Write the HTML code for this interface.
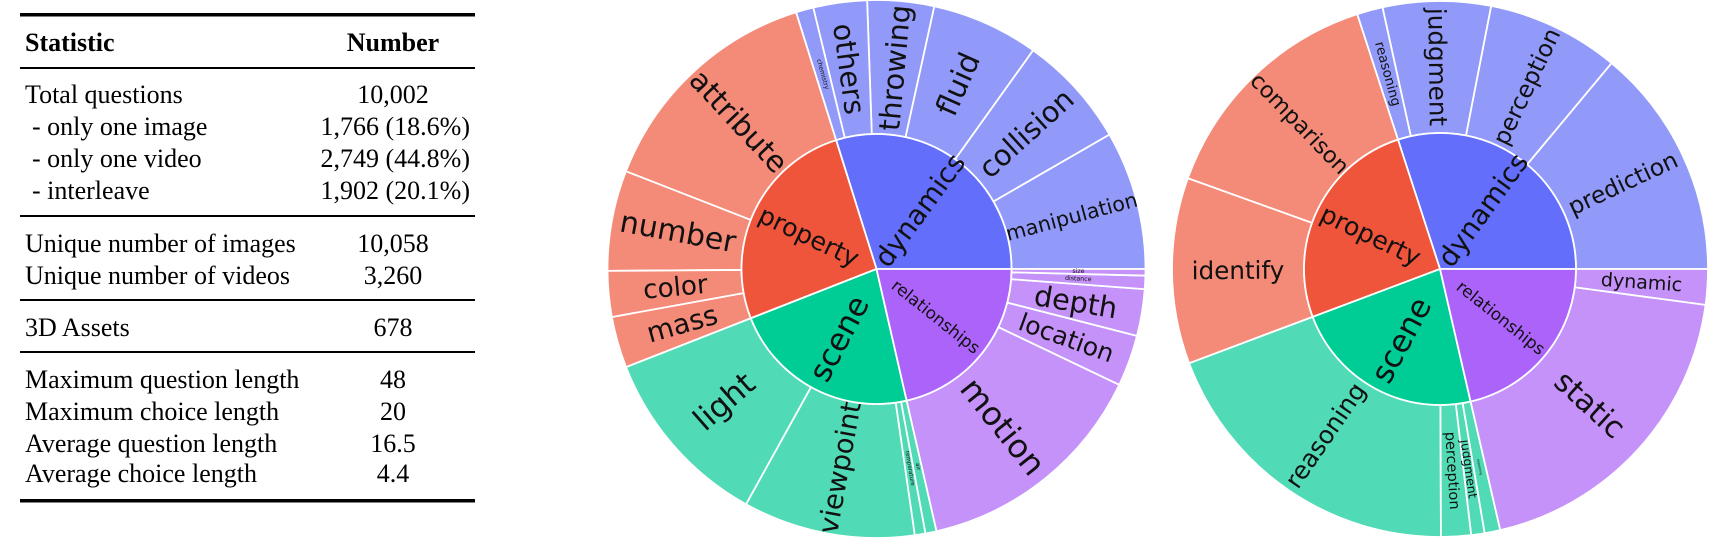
<!DOCTYPE html>
<html><head><meta charset="utf-8">
<style>
html,body{margin:0;padding:0;background:#fff;}
body{width:1711px;height:549px;overflow:hidden;position:relative;}
svg{position:absolute;left:0;top:0;}
</style></head>
<body>
<svg id="s" width="1711" height="549" xmlns="http://www.w3.org/2000/svg">
<g font-family="Liberation Serif, serif" font-size="26" fill="#000">
<rect x="20" y="13" width="455" height="3.5" fill="#000"/>
<text x="25" y="51" font-weight="bold">Statistic</text>
<text x="393" y="51" font-weight="bold" text-anchor="middle">Number</text>
<rect x="20" y="67" width="455" height="2" fill="#000"/>
<text x="25" y="103">Total questions</text><text x="393" y="103" text-anchor="middle">10,002</text>
<text x="32" y="135">- only one image</text><text x="470" y="135" text-anchor="end">1,766 (18.6%)</text>
<text x="32" y="167">- only one video</text><text x="470" y="167" text-anchor="end">2,749 (44.8%)</text>
<text x="32" y="199">- interleave</text><text x="470" y="199" text-anchor="end">1,902 (20.1%)</text>
<rect x="20" y="215" width="455" height="2" fill="#000"/>
<text x="25" y="252">Unique number of images</text><text x="393" y="252" text-anchor="middle">10,058</text>
<text x="25" y="284">Unique number of videos</text><text x="393" y="284" text-anchor="middle">3,260</text>
<rect x="20" y="299" width="455" height="2" fill="#000"/>
<text x="25" y="336">3D Assets</text><text x="393" y="336" text-anchor="middle">678</text>
<rect x="20" y="351" width="455" height="2" fill="#000"/>
<text x="25" y="388">Maximum question length</text><text x="393" y="388" text-anchor="middle">48</text>
<text x="25" y="420">Maximum choice length</text><text x="393" y="420" text-anchor="middle">20</text>
<text x="25" y="452">Average question length</text><text x="393" y="452" text-anchor="middle">16.5</text>
<text x="25" y="482">Average choice length</text><text x="393" y="482" text-anchor="middle">4.4</text>
<rect x="20" y="499" width="455" height="3.5" fill="#000"/>
</g>
<g id="c1"></g>
<g id="c2"></g>
</svg>
<script>
var NS="http://www.w3.org/2000/svg";
var C={p:["#EF553B","#F48A78"],d:["#636EFA","#9199F9"],s:["#00CC96","#50DAB5"],r:["#AB63FA","#C492F8"]};
function pt(cx,cy,r,a){a=a*Math.PI/180;return [cx+r*Math.cos(a),cy-r*Math.sin(a)];}
function arc(cx,cy,r0,r1,a0,a1){
 var p1=pt(cx,cy,r1,a0),p2=pt(cx,cy,r1,a1),p3=pt(cx,cy,r0,a1),p4=pt(cx,cy,r0,a0);
 var lg=(a1-a0)>180?1:0;
 var d="M"+p1+" A"+r1+","+r1+" 0 "+lg+" 0 "+p2+" L"+p3;
 if(r0>0) d+=" A"+r0+","+r0+" 0 "+lg+" 1 "+p4; d+=" Z";return d;}
function draw(gid,cx,cy,ri,ro,inner,outer,fo,fi){
 var g=document.getElementById(gid);
 function seg(r0,r1,a0,a1,col,lab,fs,rm){
  var p=document.createElementNS(NS,"path");
  p.setAttribute("d",arc(cx,cy,r0,r1,a0,a1));p.setAttribute("fill",col);
  p.setAttribute("stroke","#fff");p.setAttribute("stroke-width","1.8");g.appendChild(p);
  if(!lab)return;
  var am=(a0+a1)/2,pp=pt(cx,cy,rm,am),ar=am*Math.PI/180;
  var rot=Math.atan2(Math.sin(ar),-Math.cos(ar))*180/Math.PI;
  if(rot>90)rot-=180;if(rot<-90)rot+=180;
  var t=document.createElementNS(NS,"text");
  t.setAttribute("transform","translate("+pp[0]+","+pp[1]+") rotate("+rot+")");
  t.setAttribute("text-anchor","middle");t.setAttribute("dominant-baseline","central");
  t.setAttribute("font-family","DejaVu Sans, sans-serif");t.setAttribute("font-size",fs);
  t.setAttribute("fill","#111");t.textContent=lab;g.appendChild(t);}
 outer.forEach(function(o){seg(ri,ro,o[0],o[1],C[o[2]][1],o[3],o[4]*fo,(ri+ro)/2);});
 inner.forEach(function(o){seg(0,ri,o[0],o[1],C[o[2]][0],o[3],o[4]*fi,o[5]);});
}
draw("c1",876.5,269,135,269,
 [[0,107.4,"d","dynamics",23,73],[107.4,201.4,"p","property",21,75],[201.4,282.9,"s","scene",26,79],[282.9,360,"r","relationships",14,76]],
 [[0,30,"d","manipulation",16.5],[30,54.4,"d","collision",23],[54.4,77.6,"d","fluid",24],[77.6,92,"d","throwing",23],[92,103.6,"d","others",23],[103.6,107.4,"d","chemistry",5],
  [107.4,158.7,"p","attribute",23.5],[158.7,180.4,"p","number",24],[180.4,190.3,"p","color",21],[190.3,201.4,"p","mass",22],
  [201.4,241,"s","light",25],[241,278.2,"s","viewpoint",22],[278.2,280.5,"s","temperature",4.5],[280.5,282.9,"s","air",4.5],
  [282.9,334.5,"r","motion",26],[334.5,345.6,"r","location",20],[345.6,355.7,"r","depth",23],[355.7,358.6,"r","distance",5],[358.6,360,"r","size",5]],1.25,1.2);
draw("c2",1440,269,136,268,
 [[0,108,"d","dynamics",23,73],[108,200.6,"p","property",21,77],[200.6,283,"s","scene",26,81],[283,360,"r","relationships",14,78]],
 [[0,50.2,"d","prediction",21],[50.2,79,"d","perception",21],[79,102.4,"d","judgment",22],[102.4,108,"d","reasoning",12],
  [108,160.2,"p","comparison",20],[160.2,200.6,"p","identify",22],
  [200.6,270.2,"s","reasoning",22],[270.2,276.7,"s","perception",13],[276.7,279.6,"s","judgment",11],[279.6,283,"s","reasoning",3],
  [283,352.3,"r","static",27],[352.3,360,"r","dynamic",17]],1.12,1.2);
</script>
</body></html>
